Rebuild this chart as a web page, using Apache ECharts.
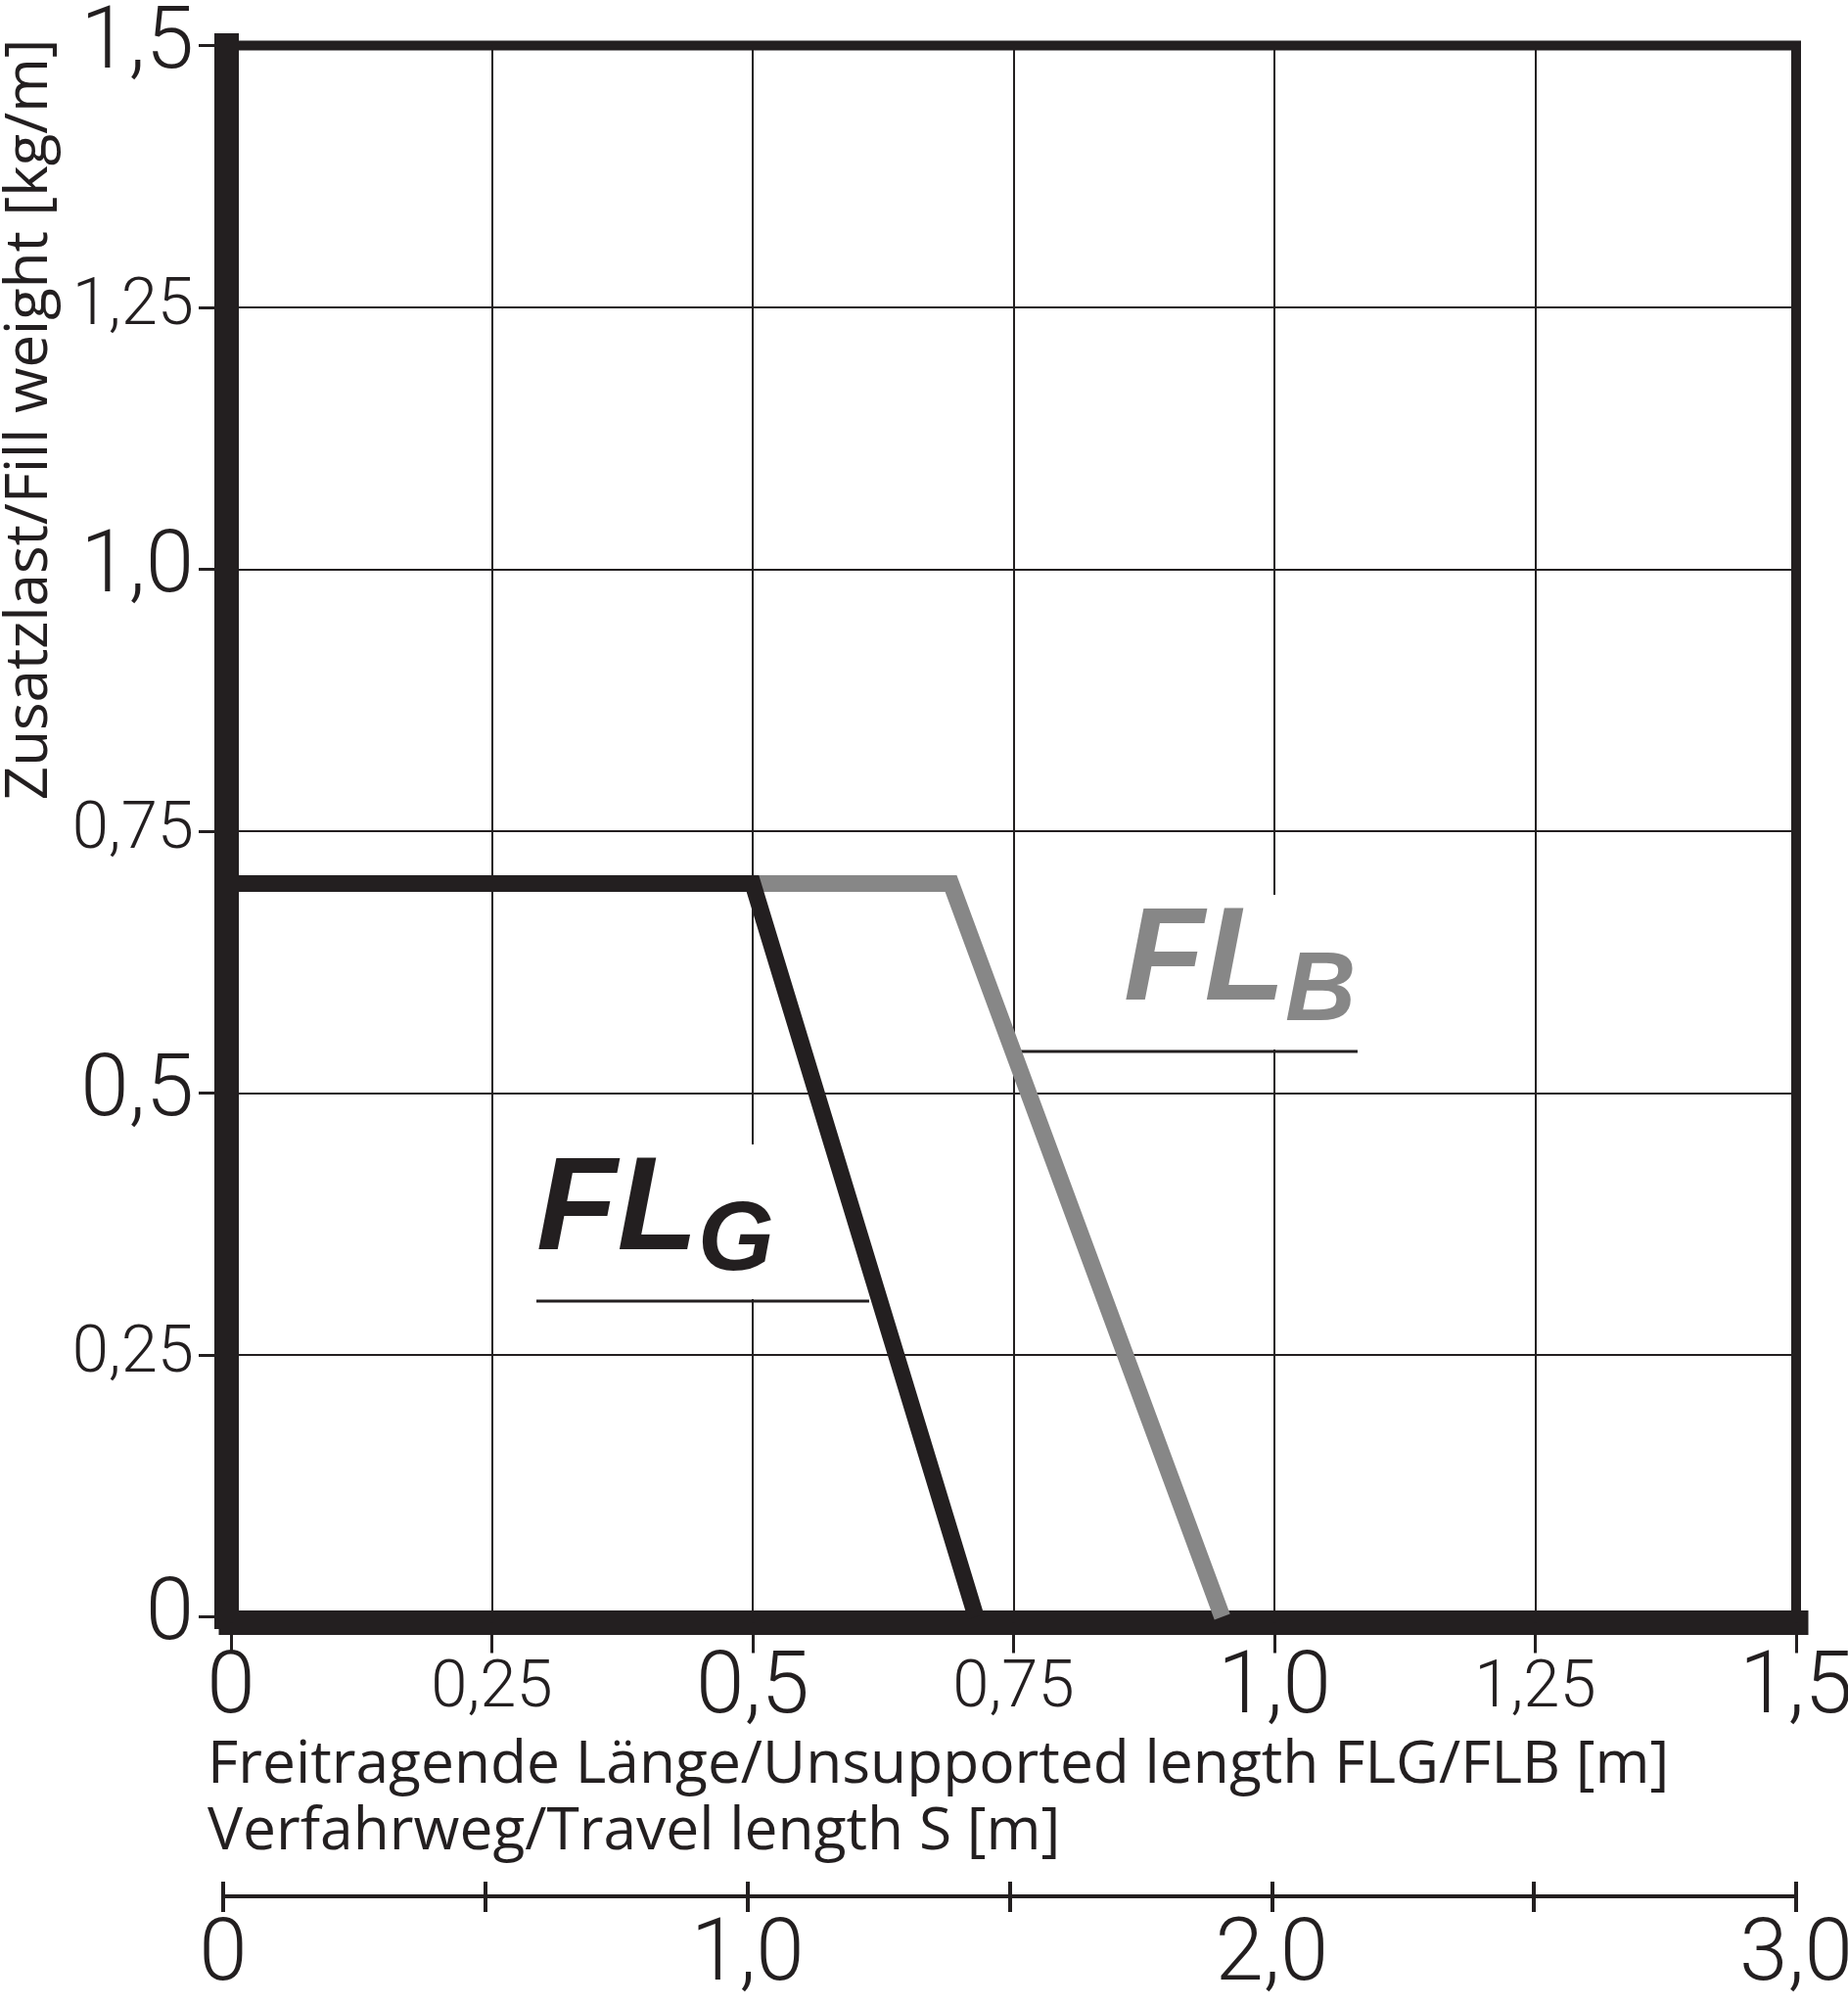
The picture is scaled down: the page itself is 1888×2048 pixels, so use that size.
<!DOCTYPE html>
<html>
<head>
<meta charset="utf-8">
<script src="https://cdn.jsdelivr.net/npm/echarts@6/dist/echarts.min.js"></script>
<style>
html,body{margin:0;padding:0;background:#fff;}
#chart{width:1888px;height:2048px;}
</style>
</head>
<body>
<div id="chart"></div>
<script>
// ---- data ----
const flgLength = [0, 0.5, 0.714];
const flgLoad = [0.7, 0.7, 0];
const flbLength = [0.5, 0.69, 0.95];
const flbLoad = [0.7, 0.7, 0];

const lengthTicks = [0, 0.25, 0.5, 0.75, 1.0, 1.25, 1.5];
const lengthTickLabels = ['0', '0,25', '0,5', '0,75', '1,0', '1,25', '1,5'];
const loadTicks = [0, 0.25, 0.5, 0.75, 1.0, 1.25, 1.5];
const loadTickLabels = ['0', '0,25', '0,5', '0,75', '1,0', '1,25', '1,5'];
const travelTicks = [0, 0.5, 1.0, 1.5, 2.0, 2.5, 3.0];
const travelTickLabels = ['0', '', '1,0', '', '2,0', '', '3,0'];

// annotation anchors (data units)
const flgUnderlineX = [0.2927, 0.6116];
const flgUnderlineY = [0.3014, 0.3014];
const flbUnderlineX = [0.7514, 1.0797];
const flbUnderlineY = [0.5397, 0.5397];
const flgLabelAt = [0.2927, 0.3014];
const flbLabelAt = [0.8555, 0.5397];

// ---- styling ----
const INK = '#231f20';
const GREY = '#878787';
const TICK_FONT = 'Roboto';
const TITLE_FONT = '"Open Sans", "Noto Sans", sans-serif';
const LABEL_FONT = '"Liberation Sans", Arial, sans-serif';

const pairs = (xs, ys) => xs.map((x, i) => [x, ys[i]]);

function tickFormatter(ticks, labels) {
  return function (v) {
    const i = ticks.findIndex(t => Math.abs(t - v) < 1e-9);
    const s = i >= 0 ? labels[i] : '';
    if (!s) return '';
    const major = Math.abs(v * 2 - Math.round(v * 2)) < 1e-9;
    return '{' + (major ? 'big' : 'small') + '|' + s + '}';
  };
}
const richTicks = {
  big: { fontFamily: TICK_FONT, fontWeight: 300, fontSize: 89, lineHeight: 90, color: INK },
  small: { fontFamily: TICK_FONT, fontWeight: 300, fontSize: 67, lineHeight: 90, color: INK }
};

function annotationLabel(main, sub, color) {
  return {
    show: true,
    position: [0, 0],
    align: 'left',
    verticalAlign: 'bottom',
    offset: [0, -2],
    formatter: '{m|' + main + '}{s|' + sub + '}',
    backgroundColor: '#ffffff',
    padding: [0, 4, 8, 0],
    rich: {
      m: { fontFamily: LABEL_FONT, fontStyle: 'italic', fontWeight: 'bold', fontSize: 135, lineHeight: 150, color: color, verticalAlign: 'bottom', padding: [0, 0, 13, 0] },
      s: { fontFamily: LABEL_FONT, fontStyle: 'italic', fontWeight: 'bold', fontSize: 100, lineHeight: 42, color: color, verticalAlign: 'bottom' }
    }
  };
}

const chart = echarts.init(document.getElementById('chart'), null, { renderer: 'canvas' });

const option = {
  animation: false,
  backgroundColor: '#ffffff',
  textStyle: { fontFamily: TITLE_FONT, color: INK },
  grid: [
    { left: 236, right: 53, top: 46.5, bottom: 396.5, show: true, borderColor: INK, borderWidth: 10, backgroundColor: 'transparent', containLabel: false, outerBoundsMode: 'none' },
    { left: 228, right: 53, top: 1936, height: 1, show: false, containLabel: false, outerBoundsMode: 'none' }
  ],
  xAxis: [
    {
      type: 'value', gridIndex: 0, position: 'bottom', min: 0, max: 1.5, interval: 0.25, offset: 6,
      axisLine: { show: true, onZero: false, lineStyle: { color: INK, width: 25, cap: 'square' } },
      axisTick: { show: true, length: 31, lineStyle: { color: INK, width: 3 } },
      axisLabel: { show: true, margin: 24, formatter: tickFormatter(lengthTicks, lengthTickLabels), rich: richTicks },
      splitLine: { show: true, lineStyle: { color: INK, width: 2 } },
      name: 'Freitragende Länge/Unsupported length FLG/FLB [m]\nVerfahrweg/Travel length S [m]',
      nameLocation: 'start', nameGap: 24, nameMoveOverlap: false,
      nameTextStyle: { fontFamily: TITLE_FONT, fontSize: 60.5, lineHeight: 68, color: INK, align: 'left', verticalAlign: 'top', padding: [112, 0, 0, 0] }
    },
    {
      type: 'value', gridIndex: 1, position: 'bottom', min: 0, max: 3, interval: 0.5,
      axisLine: { show: true, onZero: false, lineStyle: { color: INK, width: 4, cap: 'butt' } },
      axisTick: { show: true, length: 16, lineStyle: { color: INK, width: 4 } },
      axisLabel: { show: true, margin: 18, formatter: tickFormatter(travelTicks, travelTickLabels), rich: richTicks },
      splitLine: { show: false }
    },
    {
      type: 'value', gridIndex: 1, position: 'bottom', min: 0, max: 3, interval: 0.5,
      axisLine: { show: false, onZero: false },
      axisTick: { show: true, inside: true, length: 15, lineStyle: { color: INK, width: 4 } },
      axisLabel: { show: false },
      splitLine: { show: false }
    }
  ],
  yAxis: [
    {
      type: 'value', gridIndex: 0, position: 'left', min: 0, max: 1.5, interval: 0.25, offset: 5,
      axisLine: { show: true, onZero: false, lineStyle: { color: INK, width: 25, cap: 'square' } },
      axisTick: { show: true, length: 28, lineStyle: { color: INK, width: 3 } },
      axisLabel: { show: true, margin: 33, formatter: tickFormatter(loadTicks, loadTickLabels), rich: richTicks },
      splitLine: { show: true, lineStyle: { color: INK, width: 2 } },
      name: 'Zusatzlast/Fill weight [kg/m]',
      nameLocation: 'end', nameGap: 7, nameRotate: 90, nameMoveOverlap: false,
      nameTextStyle: { fontFamily: TITLE_FONT, fontSize: 60, lineHeight: 64, color: INK, align: 'right', verticalAlign: 'bottom', padding: [0, 0, 168, 0] }
    },
    { type: 'value', gridIndex: 1, min: 0, max: 1, show: false }
  ],
  series: [
    {
      name: 'FLG underline', type: 'line', xAxisIndex: 0, yAxisIndex: 0, z: 2,
      data: pairs(flgUnderlineX, flgUnderlineY), symbol: 'none', silent: true,
      lineStyle: { color: INK, width: 3 }
    },
    {
      name: 'FLB underline', type: 'line', xAxisIndex: 0, yAxisIndex: 0, z: 2,
      data: pairs(flbUnderlineX, flbUnderlineY), symbol: 'none', silent: true,
      lineStyle: { color: INK, width: 3 }
    },
    {
      name: 'FLB', type: 'line', xAxisIndex: 0, yAxisIndex: 0, z: 3,
      data: pairs(flbLength, flbLoad), symbol: 'none',
      lineStyle: { color: GREY, width: 17, join: 'miter', cap: 'butt' }
    },
    {
      name: 'FLG', type: 'line', xAxisIndex: 0, yAxisIndex: 0, z: 4,
      data: pairs(flgLength, flgLoad), symbol: 'none',
      lineStyle: { color: INK, width: 17, join: 'miter', cap: 'butt' }
    },
    {
      name: 'labels', type: 'scatter', xAxisIndex: 0, yAxisIndex: 0, z: 5, silent: true,
      symbolSize: 0,
      itemStyle: { opacity: 1 },
      data: [
        { value: flgLabelAt, label: annotationLabel('FL', 'G', INK) },
        { value: flbLabelAt, label: annotationLabel('FL', 'B', GREY) }
      ]
    }
  ]
};

chart.setOption(option);
</script>
</body>
</html>
